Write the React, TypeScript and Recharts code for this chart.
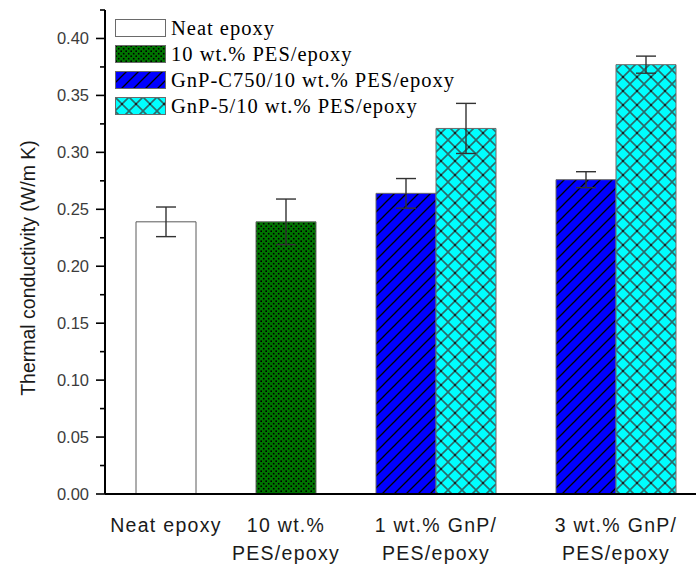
import React from 'react';
import { BarChart, Bar, XAxis, YAxis, ErrorBar, Cell, Legend } from 'recharts';

// Category labels along the x axis (one entry per text line)
const categoryLines: string[][] = [
  ['Neat epoxy'],
  ['10 wt.%', 'PES/epoxy'],
  ['1 wt.% GnP/', 'PES/epoxy'],
  ['3 wt.% GnP/', 'PES/epoxy'],
];

// Series names shown in the legend
const seriesNames = [
  'Neat epoxy',
  '10 wt.% PES/epoxy',
  'GnP-C750/10 wt.% PES/epoxy',
  'GnP-5/10 wt.% PES/epoxy',
];

// Thermal conductivity (W/m K) per category, null where a sample is absent
const neatEpoxy = [0.239, null, null, null];
const pesEpoxy = [null, 0.239, null, null];
const c750PesEpoxy = [null, null, 0.264, 0.276];
const gnp5PesEpoxy = [null, null, 0.321, 0.377];

// Standard deviations
const neatEpoxyErr = [0.013, null, null, null];
const pesEpoxyErr = [null, 0.02, null, null];
const c750PesEpoxyErr = [null, null, 0.013, 0.007];
const gnp5PesEpoxyErr = [null, null, 0.022, 0.0075];

// Y axis ticks: labelled every 0.05, minor marks in between
const yTicks = [0, 0.025, 0.05, 0.075, 0.1, 0.125, 0.15, 0.175, 0.2, 0.225, 0.25, 0.275, 0.3, 0.325, 0.35, 0.375, 0.4, 0.425];
const yMajorTicks = [0, 0.05, 0.1, 0.15, 0.2, 0.25, 0.3, 0.35, 0.4];

const seriesValues = [neatEpoxy, pesEpoxy, c750PesEpoxy, gnp5PesEpoxy];
const seriesErrors = [neatEpoxyErr, pesEpoxyErr, c750PesEpoxyErr, gnp5PesEpoxyErr];
const seriesFills = ['#ffffff', 'url(#patPes)', 'url(#patC750)', 'url(#patGnp5)'];

type Row = {
  slot: string;
  value: number | null;
  err: number | null;
  series: number;
  labelCat: number;
  barsInCat: number;
};

// One band per bar, with an empty band separating neighbouring categories
const rows: Row[] = [];
categoryLines.forEach((_, ci) => {
  if (ci > 0) rows.push({ slot: `gap-${ci}`, value: null, err: null, series: -1, labelCat: -1, barsInCat: 0 });
  const present = seriesValues.map((v, si) => (v[ci] != null ? si : -1)).filter((si) => si >= 0);
  present.forEach((si, k) => {
    rows.push({
      slot: `c${ci}-s${si}`,
      value: seriesValues[si][ci],
      err: seriesErrors[si][ci],
      series: si,
      labelCat: k === 0 ? ci : -1,
      barsInCat: present.length,
    });
  });
});
const rowBySlot = new Map(rows.map((r) => [r.slot, r]));

const Patterns = () => (
  <defs>
    <pattern id="patPes" patternUnits="userSpaceOnUse" width="5" height="5">
      <rect width="5" height="5" fill="#007400" />
      <rect x="0.4" y="0.4" width="1.6" height="1.6" fill="#000" />
      <rect x="2.9" y="2.9" width="1.6" height="1.6" fill="#000" />
    </pattern>
    <pattern id="patC750" patternUnits="userSpaceOnUse" width="12" height="12">
      <rect width="12" height="12" fill="#0000ff" />
      <path d="M-3,3 L3,-3 M0,12 L12,0 M9,15 L15,9" stroke="#000" strokeWidth="1.3" />
    </pattern>
    <pattern id="patGnp5" patternUnits="userSpaceOnUse" width="14" height="14">
      <rect width="14" height="14" fill="#00ffff" />
      <path d="M0,0 L14,14 M14,0 L0,14" stroke="#2b6a6a" strokeWidth="1.6" />
      <rect x="6.2" y="6.2" width="1.6" height="1.6" fill="#000" />
    </pattern>
  </defs>
);

const YTick = (props: any) => {
  const { x, y, payload } = props;
  const v = payload.value as number;
  const major = yMajorTicks.some((m) => Math.abs(m - v) < 1e-9);
  return (
    <g>
      <line x1={x} x2={x - (major ? 9 : 5)} y1={y} y2={y} stroke="#000" strokeWidth={1.6} />
      {major && (
        <text x={x - 16} y={y} dy={6} textAnchor="end" fontFamily="Liberation Sans, Arial, sans-serif" fontSize={16.5} fill="#3c3c3c">
          {v.toFixed(2)}
        </text>
      )}
    </g>
  );
};

const XTick = (props: any) => {
  const { x, y, payload } = props;
  const row = rowBySlot.get(payload.value);
  if (!row || row.labelCat < 0) return null;
  const half = typeof payload.offset === 'number' ? payload.offset : 30;
  const cx = x + half * (row.barsInCat - 1);
  return (
    <text textAnchor="middle" fontFamily="Liberation Sans, Arial, sans-serif" fontSize={19.5} letterSpacing={1.3} fill="#1a1a1a">
      {categoryLines[row.labelCat].map((line, i) => (
        <tspan key={i} x={cx} y={y + 30 + i * 28}>
          {line}
        </tspan>
      ))}
    </text>
  );
};

const YTitle = (props: any) => {
  const vb = props.viewBox || { x: 0, y: 10, width: 105, height: 484 };
  const cx = vb.x + 28;
  const cy = vb.y + vb.height / 2 + 16;
  return (
    <text
      x={cx}
      y={cy}
      transform={`rotate(-90, ${cx}, ${cy})`}
      textAnchor="middle"
      dominantBaseline="central"
      fontFamily="Liberation Sans, Arial, sans-serif"
      fontSize={19.5}
      fill="#1a1a1a"
    >
      Thermal conductivity (W/m K)
    </text>
  );
};

const LegendBox = () => (
  <div style={{ display: 'flex', flexDirection: 'column' }}>
    {seriesNames.map((name, i) => (
      <div key={name} style={{ display: 'flex', alignItems: 'center', height: 26 }}>
        <svg width={51} height={18} style={{ display: 'block' }}>
          <rect x={0.5} y={0.5} width={50} height={17} fill={seriesFills[i]} stroke="#6a6a6a" strokeWidth={1} />
        </svg>
        <span
          style={{
            marginLeft: 5,
            fontFamily: 'Liberation Serif, Times New Roman, serif',
            fontSize: 20.5,
            letterSpacing: 1,
            color: '#000',
            whiteSpace: 'nowrap',
            lineHeight: '26px',
          }}
        >
          {name}
        </span>
      </div>
    ))}
  </div>
);

export default function App() {
  return (
    <div style={{ position: 'absolute', left: 0, top: 0, width: 696, height: 568, background: '#fff' }}>
      <BarChart
        width={696}
        height={568}
        data={rows}
        margin={{ top: 10, right: 0, bottom: 0, left: 0 }}
        barCategoryGap={0}
        barGap={0}
      >
        <Patterns />
        <XAxis
          dataKey="slot"
          type="category"
          height={74}
          interval={0}
          padding={{ left: 31, right: 20 }}
          axisLine={{ stroke: '#000', strokeWidth: 2 }}
          tickLine={false}
          tick={<XTick />}
        />
        <YAxis
          type="number"
          domain={[0, 0.425]}
          ticks={yTicks}
          interval={0}
          width={105}
          tickSize={0}
          tickMargin={0}
          axisLine={{ stroke: '#000', strokeWidth: 2 }}
          tickLine={false}
          tick={<YTick />}
          allowDataOverflow
          label={<YTitle />}
        />
        <Legend
          layout="vertical"
          align="center"
          verticalAlign="middle"
          content={() => <LegendBox />}
          wrapperStyle={{ left: 115, top: 15, width: 'auto', height: 'auto' }}
        />
        <Bar dataKey="value" isAnimationActive={false}>
          {rows.map((r) => (
            <Cell
              key={r.slot}
              fill={r.series >= 0 ? seriesFills[r.series] : 'none'}
              stroke={r.series === 0 ? '#5a5a5a' : '#6a6a6a'}
              strokeWidth={1}
            />
          ))}
          <ErrorBar dataKey="err" width={10} stroke="#333" strokeWidth={1.4} direction="y" />
        </Bar>
      </BarChart>
    </div>
  );
}
